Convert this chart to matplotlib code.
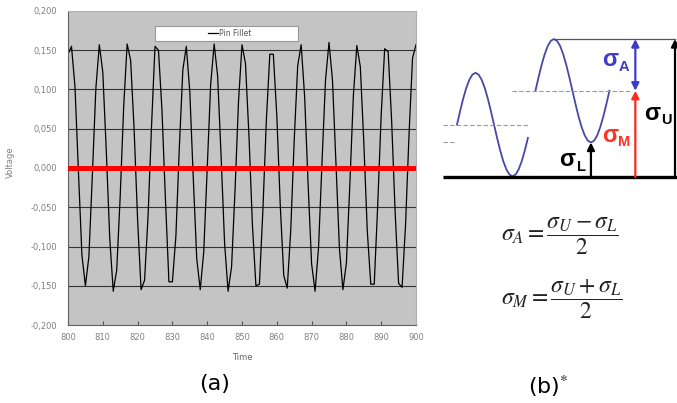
import numpy as np
import matplotlib
matplotlib.use("Agg")
import matplotlib.pyplot as plt
from matplotlib.patches import Rectangle

plt.rcParams['mathtext.fontset'] = 'stix'

# ---- (a) pin fillet voltage, one sample per time step ----
time = np.arange(800, 901)
voltage = [0.145, 0.155, 0.104, -0.005, -0.111, -0.150, -0.113, -0.009, 0.101, 0.157,
           0.122, 0.022, -0.090, -0.157, -0.130, -0.036, 0.078, 0.158, 0.137, 0.049,
           -0.066, -0.155, -0.143, -0.062, 0.053, 0.155, 0.150, 0.074, -0.040, -0.145,
           -0.145, -0.087, 0.027, 0.125, 0.155, 0.097, -0.013, -0.116, -0.155, -0.107,
           -0.001, 0.107, 0.158, 0.117, 0.014, -0.096, -0.157, -0.126, -0.028, 0.085,
           0.157, 0.133, 0.041, -0.073, -0.150, -0.148, -0.054, 0.061, 0.145, 0.145,
           0.067, -0.048, -0.137, -0.153, -0.080, 0.035, 0.130, 0.157, 0.091, -0.021,
           -0.122, -0.157, -0.101, 0.008, 0.112, 0.160, 0.112, 0.006, -0.103, -0.155,
           -0.121, -0.020, 0.092, 0.156, 0.129, 0.033, -0.080, -0.148, -0.148, -0.047,
           0.068, 0.152, 0.148, 0.060, -0.056, -0.147, -0.152, -0.072, 0.043, 0.140,
           0.157]
series_name = "Pin Fillet"
ref_level = 0.0
xticks = [800, 810, 820, 830, 840, 850, 860, 870, 880, 890, 900]
yticks = [-0.2, -0.15, -0.1, -0.05, 0.0, 0.05, 0.1, 0.15, 0.2]
ytick_labels = ['-0,200', '-0,150', '-0,100', '-0,050', '0,000',
                '0,050', '0,100', '0,150', '0,200']

# ---- (b) stress cycle sketch ----
sigma_U = 1.0
sigma_L = 0.25
sigma_M = (sigma_U + sigma_L) / 2
sigma_A = (sigma_U - sigma_L) / 2
wave1_mean = 0.38
# one cycle of a sine, 15 degree steps
wave_shape = [0, 0.259, 0.5, 0.707, 0.866, 0.966, 1, 0.966, 0.866, 0.707, 0.5, 0.259,
              0, -0.259, -0.5, -0.707, -0.866, -0.966, -1, -0.966, -0.866, -0.707, -0.5, -0.259, 0]

grey_txt = '#808080'
fig = plt.figure(figsize=(6.77, 4.03), dpi=100)

# ---------------- panel (a) ----------------
ax = fig.add_axes([68/677, 78/403, 348/677, 314/403])
ax.set_facecolor('#c4c4c4')
for y in yticks[1:-1]:
    ax.axhline(y, color='#333333', lw=0.8, zorder=1)
ax.plot(time, voltage, color='black', lw=0.9, zorder=2, label=series_name)
ax.axhline(ref_level, color='#ff0000', lw=3.6, zorder=3)
ax.set_xlim(800, 900)
ax.set_ylim(-0.2, 0.2)
ax.set_xticks(xticks)
ax.set_yticks(yticks)
ax.set_yticklabels(ytick_labels)
ax.tick_params(axis='x', direction='in', length=3, width=0.8, color='#555555',
               labelsize=6, labelcolor=grey_txt, pad=6)
ax.tick_params(axis='y', length=0, labelsize=6, labelcolor=grey_txt, pad=8)
for s in ['left', 'bottom']:
    ax.spines[s].set_color('#606060')
for s in ['top', 'right']:
    ax.spines[s].set_color('#b0b0b0')
ax.set_xlabel('Time', fontsize=6, color='#666666')
ax.xaxis.set_label_coords(0.5, -0.09)
ax.set_ylabel('Voltage', fontsize=6, color=grey_txt)
ax.yaxis.set_label_coords(-0.152, 0.52)

ax.add_patch(Rectangle((0.25, 0.904), 0.411, 0.048, transform=ax.transAxes,
                       facecolor='white', edgecolor='#999999', lw=0.8, zorder=4))
leg = ax.legend(loc='center', bbox_to_anchor=(0.464, 0.928), frameon=False,
                fontsize=5.5, handlelength=1.3, handletextpad=0.1,
                borderpad=0, borderaxespad=0)
leg.set_zorder(5)
for t in leg.get_texts():
    t.set_color('#555555')

fig.text(215/677, 1 - 384/403, '(a)', fontsize=16, ha='center', va='center')

# ---------------- panel (b) ----------------
bx = fig.add_axes([430/677, 203/403, 247/677, 200/403])
bx.set_xlim(-0.365, 2.973)
bx.set_ylim(-0.167, 1.283)
bx.axis('off')

blue = '#4848a8'
n = len(wave_shape)
phase = np.arange(n) / (n - 1)
wave1 = [wave1_mean + sigma_A * v for v in wave_shape]
wave2 = [sigma_M + sigma_A * v for v in wave_shape]
bx.plot(phase[:-1], wave1[:-1], color=blue, lw=1.3)
bx.plot(phase + 1.06, wave2, color=blue, lw=1.3)

t_trough = 1.06 + 0.75
t_mid = 2.41
t_up = 2.946

dash = dict(color='#9a9a9a', lw=0.8, ls=(0, (4, 2)))
bx.plot([-0.19, 0.96], [wave1_mean, wave1_mean], **dash)
bx.plot([0.74, 2.34], [sigma_M, sigma_M], **dash)
bx.plot([-0.19, -0.03], [sigma_L, sigma_L], **dash)
bx.plot([1.31, t_up], [sigma_U, sigma_U], color='#555555', lw=0.9)
bx.plot([-0.19, 2.973], [0, 0], color='black', lw=2.4, solid_capstyle='butt')

def arrow(x, y0, y1, color, style='-|>'):
    bx.annotate('', xy=(x, y1), xytext=(x, y0),
                arrowprops=dict(arrowstyle=style, color=color, lw=1.6,
                                mutation_scale=11, shrinkA=0, shrinkB=0))

arrow(t_up, 0, sigma_U, 'black')
arrow(t_trough, 0, sigma_L, 'black')
arrow(t_mid, 0, sigma_M, '#ff2a1a')
arrow(t_mid, sigma_M, sigma_U, '#3c3cc8', '<|-|>')

lab = dict(family='Liberation Sans', fontweight='bold', ha='center', va='center')
def sig_label(x, y, sub, color):
    bx.text(x, y, 'σ', fontsize=17, color=color, **lab)
    bx.text(x + 0.19, y - 0.05, sub, fontsize=10.5, color=color, **lab)

sig_label(1.49, 0.125, 'L', 'black')
sig_label(2.64, 0.46, 'U', 'black')
sig_label(2.07, 0.30, 'M', '#ff3322')
sig_label(2.07, 0.85, 'A', '#3c3cc8')

fig.text(560/677, 1 - 236/403, r'$\sigma_A = \dfrac{\sigma_U - \sigma_L}{2}$',
         fontsize=17, ha='center', va='center', color='#222222')
fig.text(562/677, 1 - 299/403, r'$\sigma_M = \dfrac{\sigma_U + \sigma_L}{2}$',
         fontsize=17, ha='center', va='center', color='#222222')
fig.text(548/677, 1 - 386/403, r'(b)$^{*}$', fontsize=16, ha='center', va='center')

fig.savefig('out.png', dpi=100)
